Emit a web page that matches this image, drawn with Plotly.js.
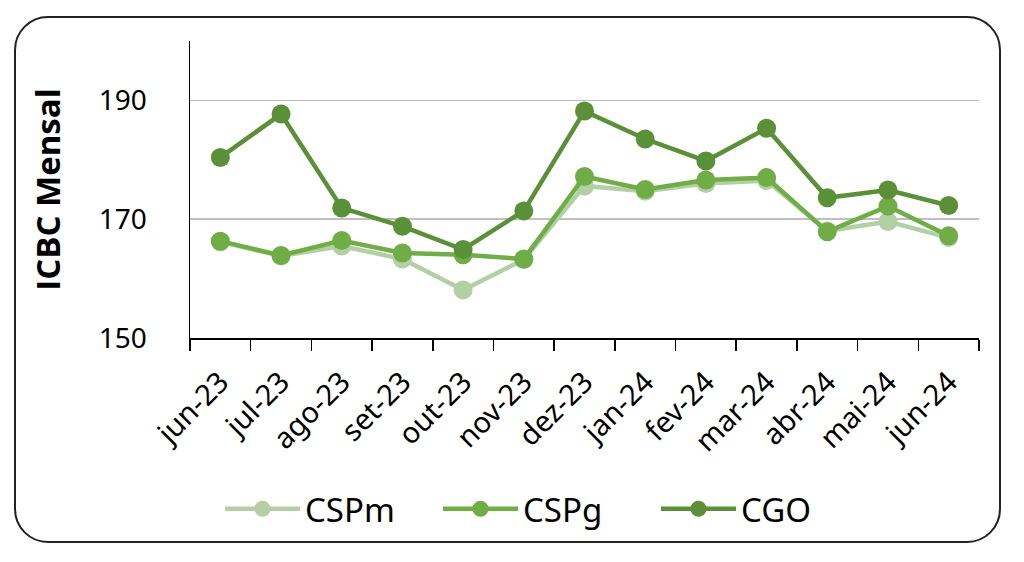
<!DOCTYPE html>
<html>
<head>
<meta charset="utf-8">
<script src="https://cdn.plot.ly/plotly-3.0.1.min.js"></script>
<style>
  html, body { margin: 0; padding: 0; background: #fff; }
  #wrap { position: relative; width: 1024px; height: 562px; overflow: hidden; }
  #frame { position: absolute; left: 14px; top: 16px; width: 987px; height: 527px;
           border: 2px solid #222; border-radius: 34px; box-sizing: border-box; pointer-events: none; }
  #chart { position: absolute; left: 0; top: 0; width: 1024px; height: 562px; }
</style>
</head>
<body>
<div id="wrap">
  <div id="chart"></div>
  <div id="frame"></div>
</div>
<script>
const months = ["jun-23","jul-23","ago-23","set-23","out-23","nov-23","dez-23","jan-24","fev-24","mar-24","abr-24","mai-24","jun-24"];
const cspm = [166.2, 163.8, 165.5, 163.3, 158.1, 163.2, 175.6, 174.7, 176.0, 176.5, 168.0, 169.6, 166.9];
const cspg = [166.3, 163.9, 166.4, 164.3, 164.0, 163.3, 177.2, 175.0, 176.6, 177.0, 167.9, 172.2, 167.2];
const cgo  = [180.4, 187.7, 171.9, 168.8, 164.9, 171.4, 188.2, 183.5, 179.8, 185.3, 173.6, 174.9, 172.3];
const yTicks = [150, 170, 190];

const common = { type: 'scatter', mode: 'lines+markers', x: months };
const traces = [
  Object.assign({}, common, { name: 'CSPm', y: cspm, line: { color: '#b3d0a5', width: 4.5 }, marker: { color: '#b3d0a5', size: 19 } }),
  Object.assign({}, common, { name: 'CSPg', y: cspg, line: { color: '#70ad47', width: 4.5 }, marker: { color: '#70ad47', size: 19 } }),
  Object.assign({}, common, { name: 'CGO',  y: cgo,  line: { color: '#5a9038', width: 4.5 }, marker: { color: '#5a9038', size: 19 } })
];

const layout = {
  width: 1024, height: 562,
  margin: { l: 190, r: 45, t: 41, b: 224 },
  paper_bgcolor: 'rgba(0,0,0,0)', plot_bgcolor: 'rgba(0,0,0,0)',
  font: { family: 'Noto Sans, Open Sans, sans-serif', color: '#000' },
  showlegend: true,
  legend: { orientation: 'h', x: 0.038, xanchor: 'left', y: -0.575, yanchor: 'middle',
            font: { size: 33, family: 'Noto Sans, sans-serif', color: '#000' }, entrywidth: 128, itemwidth: 75 },
  xaxis: {
    type: 'category', range: [-0.5, 12.5], tickangle: -45, tickson: 'boundaries', ticks: 'outside', ticklen: 11, tickwidth: 1.5,
    tickcolor: '#000', showline: true, linecolor: '#000', linewidth: 1.5, showgrid: false, ticklabelstandoff: 14,
    tickfont: { size: 29, family: 'Noto Sans, sans-serif', color: '#000' }, fixedrange: true
  },
  yaxis: {
    range: [150, 200], tickvals: yTicks, ticktext: yTicks.map(String), ticks: '',
    showline: true, linecolor: '#000', linewidth: 1.5, showgrid: true, gridcolor: '#bfbfbf', gridwidth: 1.5,
    zeroline: false, ticklabelstandoff: 36,
    tickfont: { size: 28, family: 'Noto Sans, sans-serif', color: '#000' },
    title: { text: 'ICBC Mensal', font: { size: 33, family: 'Open Sans, sans-serif', weight: 'bold', color: '#000' }, standoff: 28 },
    fixedrange: true
  }
};

Plotly.newPlot('chart', traces, layout, { displayModeBar: false, staticPlot: true });
</script>
</body>
</html>
